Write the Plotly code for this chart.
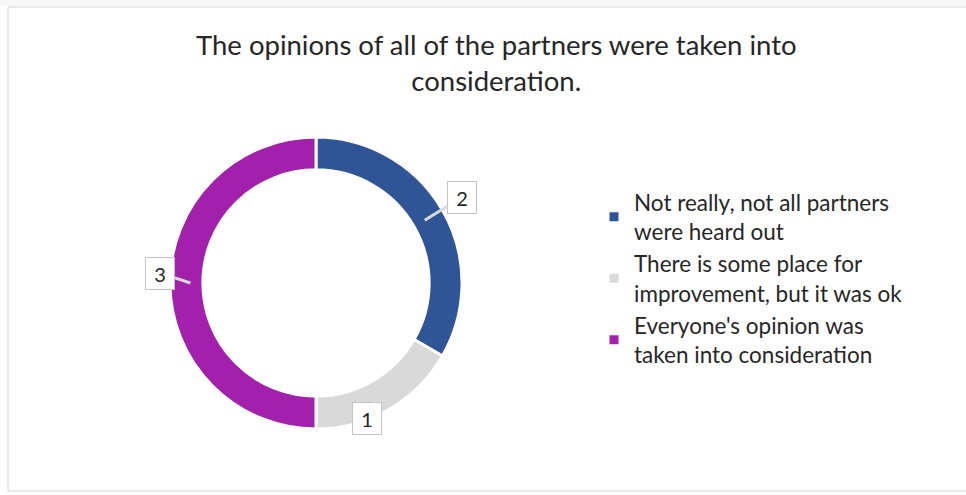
import math
import plotly.graph_objects as go

# Survey answers and their counts
categories = [
    "Not really, not all partners<br>were heard out",
    "There is some place for<br>improvement, but it was ok",
    "Everyone's opinion was<br>taken into consideration",
]
values = [2, 1, 3]
colors = ["#2F5597", "#D9D9D9", "#A320AD"]
title_text = "The opinions of all of the partners were taken into<br>consideration."

# Canvas and donut geometry (pixels)
W, H = 966, 495
CX, CY, R = 316, 283, 146
HOLE = 0.775

# Pixel offsets of each value callout box from its slice
label_offsets = [(37, -23), (-12, 27), (-30, -10)]

FONT = "Lato"
TEXT_COLOR = "#262626"

fig = go.Figure(
    go.Pie(
        labels=categories,
        values=values,
        sort=False,
        direction="clockwise",
        rotation=0,
        hole=HOLE,
        marker=dict(colors=colors, line=dict(color="white", width=3)),
        textinfo="none",
        hoverinfo="label+value",
        domain=dict(
            x=[(CX - R) / W, (CX + R) / W],
            y=[(H - CY - R) / H, (H - CY + R) / H],
        ),
    )
)

# Value callouts anchored at the middle of each ring segment
total = sum(values)
ring_r = R * (1 + HOLE) / 2 - 4
cum = 0.0
annotations = []
for v, (ox, oy) in zip(values, label_offsets):
    mid = (cum + v / 2) / total * 2 * math.pi
    cum += v
    tx = CX + ring_r * math.sin(mid)
    ty = CY - ring_r * math.cos(mid)
    annotations.append(
        dict(
            x=tx / W,
            y=1 - ty / H,
            xref="paper",
            yref="paper",
            text=str(v),
            showarrow=True,
            ax=ox,
            ay=oy,
            arrowhead=0,
            arrowwidth=3,
            arrowcolor="#dadada",
            bgcolor="white",
            bordercolor="#c4c4c4",
            borderwidth=1,
            borderpad=3,
            width=22,
            height=25,
            font=dict(family=FONT, size=20, color=TEXT_COLOR),
        )
    )

# Chart title
annotations.append(
    dict(
        text=title_text,
        x=497 / W,
        y=1 - 26 / H,
        xref="paper",
        yref="paper",
        xanchor="center",
        yanchor="top",
        showarrow=False,
        font=dict(family=FONT, size=27.5, color=TEXT_COLOR),
    )
)

fig.update_layout(
    width=W,
    height=H,
    margin=dict(l=0, r=0, t=0, b=0),
    paper_bgcolor="white",
    plot_bgcolor="white",
    legend=dict(
        x=594 / W,
        y=1 - 181 / H,
        xanchor="left",
        yanchor="top",
        font=dict(family=FONT, size=22.5, color=TEXT_COLOR),
        bgcolor="rgba(0,0,0,0)",
    ),
    annotations=annotations,
    shapes=[
        dict(type="rect", xref="paper", yref="paper",
             x0=0, x1=1, y0=1 - 6 / H, y1=1,
             fillcolor="#f6f6f6", line=dict(width=0), layer="below"),
        dict(type="rect", xref="paper", yref="paper",
             x0=8 / W, x1=1.01, y0=1 - 491 / H, y1=1 - 7 / H,
             fillcolor="rgba(0,0,0,0)", line=dict(color="#d4d4d4", width=1)),
    ],
)

fig.write_html("out.html")
